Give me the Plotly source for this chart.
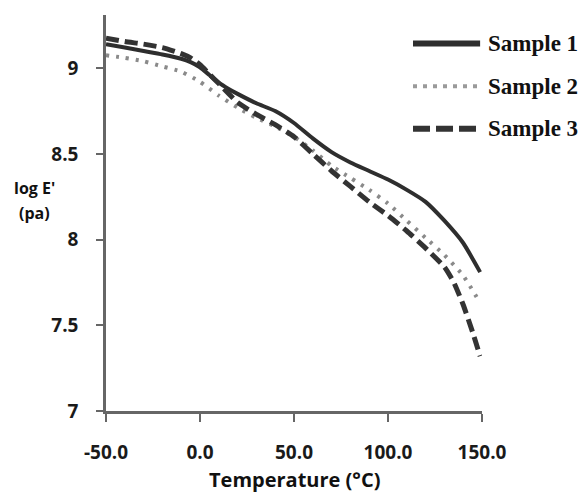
import plotly.graph_objects as go

# Storage modulus vs temperature for three samples
temp_1 = [-50, -40, -30, -20, -10, -5, 0, 5, 10, 15, 20, 30, 40, 50, 60, 70, 80, 90, 100, 110, 120, 130, 140, 149]
loge_1 = [9.14, 9.12, 9.10, 9.08, 9.055, 9.035, 9.005, 8.96, 8.915, 8.88, 8.85, 8.795, 8.75, 8.68, 8.59, 8.51, 8.45, 8.40, 8.35, 8.29, 8.22, 8.11, 7.98, 7.81]

temp_2 = [-50, -40, -30, -20, -10, 0, 10, 20, 30, 40, 50, 60, 70, 80, 90, 100, 110, 120, 130, 140, 149]
loge_2 = [9.075, 9.06, 9.04, 9.01, 8.98, 8.92, 8.84, 8.77, 8.71, 8.66, 8.60, 8.52, 8.43, 8.36, 8.29, 8.21, 8.11, 8.01, 7.91, 7.79, 7.63]

temp_3 = [-50, -40, -30, -20, -10, -5, 0, 5, 10, 20, 30, 40, 50, 60, 70, 80, 90, 100, 110, 120, 130, 135, 140, 145, 149]
loge_3 = [9.175, 9.155, 9.14, 9.12, 9.085, 9.06, 9.02, 8.965, 8.91, 8.80, 8.73, 8.67, 8.60, 8.50, 8.40, 8.31, 8.22, 8.14, 8.05, 7.95, 7.84, 7.75, 7.62, 7.46, 7.32]

series_names = ["Sample 1", "Sample 2", "Sample 3"]
x_ticks = [-50, 0, 50, 100, 150]
x_tick_text = ["-50.0", "0.0", "50.0", "100.0", "150.0"]
y_ticks = [7, 7.5, 8, 8.5, 9]

styles = [
    dict(color="#2e2e2e", width=4, dash="solid"),
    dict(color="#8a8a8a", width=4, dash="3px,7px"),
    dict(color="#333333", width=5, dash="13px,6px"),
]
legend_styles = [
    dict(color="#2e2e2e", width=6, dash="solid"),
    dict(color="#9a9a9a", width=4, dash="4px,6px"),
    dict(color="#333333", width=6, dash="17px,6px"),
]

fig = go.Figure()
for name, xs, ys, st in zip(series_names, [temp_1, temp_2, temp_3], [loge_1, loge_2, loge_3], styles):
    fig.add_trace(go.Scatter(x=xs, y=ys, mode="lines", name=name,
                             line=dict(shape="spline", smoothing=0.5, **st), showlegend=False))

# Hand-drawn legend on the right
legend_rows = [0.928, 0.82, 0.713]
for name, st, yy in zip(series_names, legend_styles, legend_rows):
    fig.add_shape(type="line", xref="paper", yref="paper", x0=0.8165, x1=0.995, y0=yy, y1=yy, line=st)
    fig.add_annotation(xref="paper", yref="paper", x=1.01, y=yy, text=name, showarrow=False,
                       xanchor="left", yanchor="middle",
                       font=dict(family="Liberation Serif", size=23, color="#111", weight="bold"))

axis_font = dict(family="Open Sans", size=19, color="#1a1a1a", weight="bold")

fig.update_xaxes(range=[-50, 150], tickvals=x_ticks, ticktext=x_tick_text, showgrid=False, zeroline=False,
                 showline=True, linecolor="#666", linewidth=2.5, ticks="outside", ticklen=8,
                 tickwidth=2, tickcolor="#666", tickfont=axis_font, ticklabelstandoff=14,
                 automargin=False)
fig.update_yaxes(range=[7, 9.31], tickvals=y_ticks, showgrid=False, zeroline=False,
                 showline=True, linecolor="#666", linewidth=2.5, ticks="outside", ticklen=7,
                 tickwidth=2, tickcolor="#666", tickfont=axis_font, ticklabelstandoff=14,
                 automargin=False)

fig.add_annotation(xref="paper", yref="paper", x=0.5, y=-0.174, text="Temperature (°C)", showarrow=False,
                   xanchor="center", yanchor="middle",
                   font=dict(family="Open Sans", size=20, color="#111", weight="bold"))

title_font = dict(family="Open Sans", size=16, color="#111", weight="bold")
fig.add_annotation(xref="paper", yref="paper", x=-0.19, y=0.562, text="log E'", showarrow=False,
                   xanchor="center", yanchor="middle", font=title_font)
fig.add_annotation(xref="paper", yref="paper", x=-0.19, y=0.499, text="(pa)", showarrow=False,
                   xanchor="center", yanchor="middle", font=title_font)

fig.update_layout(width=585, height=493, margin=dict(l=106, r=103, t=15, b=82),
                  plot_bgcolor="white", paper_bgcolor="white")

fig.write_html("out.html")
